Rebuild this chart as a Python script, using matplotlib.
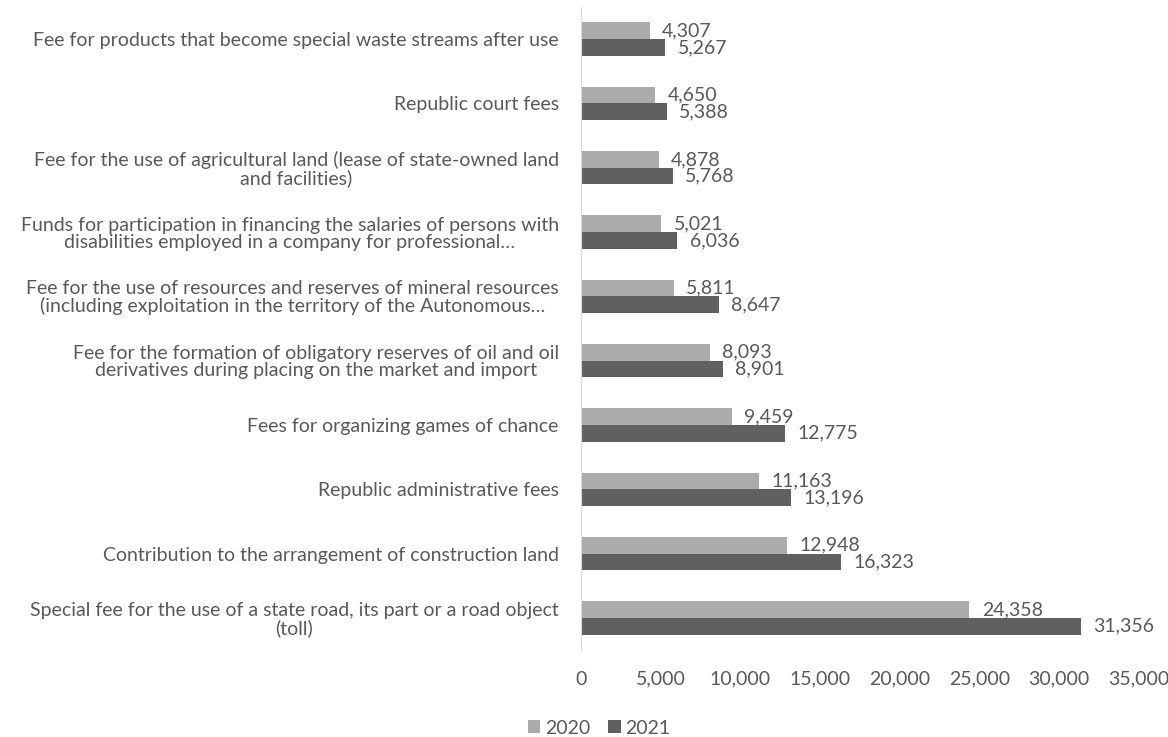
import matplotlib.pyplot as plt
import numpy as np

# fee categories, listed bottom to top as drawn
categories = [
    'Special fee for the use of a state road, its part or a road object\n(toll)',
    'Contribution to the arrangement of construction land',
    'Republic administrative fees',
    'Fees for organizing games of chance',
    'Fee for the formation of obligatory reserves of oil and oil\nderivatives during placing on the market and import',
    'Fee for the use of resources and reserves of mineral resources\n(including exploitation in the territory of the Autonomous…',
    'Funds for participation in financing the salaries of persons with\ndisabilities employed in a company for professional…',
    'Fee for the use of agricultural land (lease of state-owned land\nand facilities)',
    'Republic court fees',
    'Fee for products that become special waste streams after use',
]
values_2020 = [24358, 12948, 11163, 9459, 8093, 5811, 5021, 4878, 4650, 4307]
values_2021 = [31356, 16323, 13196, 12775, 8901, 8647, 6036, 5768, 5388, 5267]
x_ticks = [0, 5000, 10000, 15000, 20000, 25000, 30000, 35000]

plt.rcParams['font.family'] = ['Lato', 'DejaVu Sans']
text_color = '#595959'
fs = 14

fig = plt.figure(figsize=(11.68, 7.37), dpi=100)
ax = fig.add_axes([0.4974, 0.118, 0.4777, 0.8725])

y = np.arange(len(categories))
h = 0.26
ax.barh(y + h / 2, values_2020, height=h, color='#ababab', label='2020')
ax.barh(y - h / 2, values_2021, height=h, color='#606060', label='2021')

# value labels at the end of each bar
for yi, v in zip(y, values_2020):
    ax.annotate(f'{v:,}', (v, yi + h / 2), xytext=(9, 0), textcoords='offset points',
                va='center', ha='left', fontsize=fs, color=text_color)
for yi, v in zip(y, values_2021):
    ax.annotate(f'{v:,}', (v, yi - h / 2), xytext=(9, 0), textcoords='offset points',
                va='center', ha='left', fontsize=fs, color=text_color)

ax.set_xlim(0, 35000)
ax.set_ylim(-0.5, len(categories) - 0.5)
ax.set_xticks(x_ticks)
ax.set_xticklabels([f'{t:,}' for t in x_ticks])
ax.set_yticks(y)
ax.set_yticklabels(categories, multialignment='center', linespacing=1.0)
ax.tick_params(axis='both', length=0, labelsize=fs, colors=text_color)
ax.tick_params(axis='y', pad=16)
ax.tick_params(axis='x', pad=15)

for side in ['top', 'right', 'bottom']:
    ax.spines[side].set_visible(False)
ax.spines['left'].set_color('#d9d9d9')

fig.legend(loc='center', bbox_to_anchor=(0.513, 0.012), ncol=2, frameon=False,
           fontsize=fs, labelcolor=text_color, handlelength=0.65, handleheight=0.65,
           handletextpad=0.25, columnspacing=0.9)

fig.savefig('out.png', dpi=100)
